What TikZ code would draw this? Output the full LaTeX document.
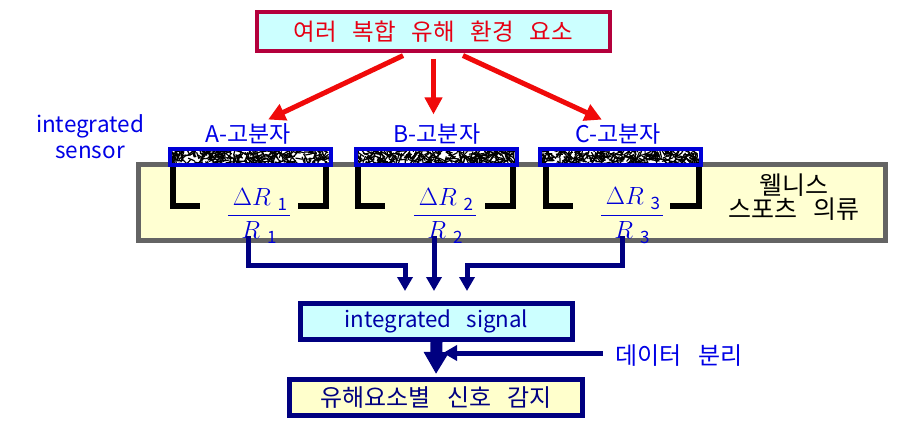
\documentclass[tikz,border=0pt]{standalone}
\usepackage{amsmath}
\usepackage{fontspec}
\setmainfont[WordSpace=3]{Noto Sans CJK KR}
\usetikzlibrary{arrows.meta,calc}

\definecolor{crimson}{RGB}{180,0,60}
\definecolor{redtext}{RGB}{230,0,20}
\definecolor{redline}{RGB}{240,10,10}
\definecolor{lightcyan}{RGB}{204,255,255}
\definecolor{lightyellow}{RGB}{255,255,204}
\definecolor{beige}{RGB}{255,255,210}
\definecolor{boxgray}{RGB}{100,100,100}
\definecolor{navy}{RGB}{0,0,128}
\definecolor{labelblue}{RGB}{0,0,230}
\definecolor{stripblue}{RGB}{0,0,215}

\newcommand{\subnum}[1]{\raisebox{-5pt}{\fontsize{17}{17}\selectfont\normalfont #1}}
\newcommand{\ratio}[1]{$\genfrac{}{}{1.6pt}{0}{\hspace{5pt}\Delta R\;\subnum{#1}\hspace{3pt}}{R\;\subnum{#1}}$}

\tikzset{
  every node/.style={inner sep=0pt},
  topbox/.style={draw=crimson, line width=4pt, fill=lightcyan, minimum width=353pt,
    minimum height=39pt, text=redtext, font=\fontsize{23.5}{27}\selectfont},
  polymer/.style={text=labelblue, font=\fontsize{23}{26}\selectfont},
  sensortext/.style={text=labelblue, align=center, font=\fontsize{22.5}{26}\selectfont},
  strip/.style={draw=stripblue, line width=4pt, fill=white, minimum width=161pt,
    minimum height=16pt, path picture={
      \path (path picture bounding box.south west) coordinate (sw)
            (path picture bounding box.north east) coordinate (ne);
      \foreach \k in {1,...,360}{
        \pgfmathsetmacro\u{rnd}\pgfmathsetmacro\v{rnd}\pgfmathsetmacro\a{rnd*360}
        \draw[black, line width=1.2pt] let \p1=(sw), \p2=(ne) in
          (\x1+\u*\x2-\u*\x1, \y1+\v*\y2-\v*\y1) -- ++(\a:7pt);
      }}},
  ratiotext/.style={text=stripblue, font=\fontsize{23}{27}\selectfont},
  sigbox/.style={draw=navy, line width=5pt, fill=lightcyan, minimum width=272pt,
    minimum height=36pt, text=navy!70!blue, font=\fontsize{22.3}{25}\selectfont},
  outbox/.style={draw=navy, line width=5pt, fill=lightyellow, minimum width=293pt,
    minimum height=36pt, text=navy, font=\fontsize{24}{27}\selectfont},
  bracket/.style={line width=6pt, black},
  redarrow/.style={redline, line width=5pt, -{Triangle[width=17pt,length=17pt]}},
  navyarrow/.style={navy, line width=5pt, -{Triangle[width=15pt,length=14pt]}},
  bigarrow/.style={navy, line width=12pt, -{Triangle[width=24pt,length=22pt]}}
}

\begin{document}
\begin{tikzpicture}[x=1pt,y=-1pt]
  \useasboundingbox (0,0) rectangle (921,425);
  \fill[white] (0,0) rectangle (921,425);

  \draw[boxgray, line width=5pt, fill=beige] (138.5,164.5) rectangle (885.5,240.5);

  \node[topbox] (top) at (433.5,31.5) {여러 복합 유해 환경 요소};
  \node[sensortext] (sensor) at (90,137) {integrated\\sensor};
  \node[polymer] (A) at (248,134) {A-고분자};
  \node[polymer] (B) at (437,134) {B-고분자};
  \node[polymer] (C) at (618,134) {C-고분자};

  \pgfmathsetseed{11}
  \node[strip] (sA) at (250.5,157) {};
  \node[strip] (sB) at (436.5,157) {};
  \node[strip] (sC) at (620.5,157) {};

  \begin{scope}[bracket]
    \draw (173,167) -- (173,206) -- (200,206);
    \draw (298,206) -- (326,206) -- (326,167);
    \draw (358,167) -- (358,206) -- (385,206);
    \draw (485,206) -- (513,206) -- (513,167);
    \draw (546,167) -- (546,206) -- (573,206);
    \draw (670,206) -- (699,206) -- (699,167);
  \end{scope}

  \node[ratiotext] (fA) at (259,216) {\ratio{1}};
  \node[ratiotext] (fB) at (445,216) {\ratio{2}};
  \node[ratiotext] (fC) at (632,216) {\ratio{3}};
  \node[align=center, font=\fontsize{25}{24}\selectfont] (wear) at (794,197) {웰니스\\스포츠 의류};

  \node[sigbox] (sig) at (436.5,321.5) {integrated signal};
  \node[outbox] (out) at (436,397.5) {유해요소별 신호 감지};
  \node[text=labelblue, font=\fontsize{24}{27}\selectfont] (sep) at (679,356) {데이터 분리};

  \coordinate (busL) at (405,265);
  \coordinate (busR) at (467,265);
  \coordinate (shaft) at (443,353);

  \begin{scope}[redarrow, shorten <=6pt, shorten >=9pt]
    \draw ([xshift=-25pt]top.south) to ([xshift=12pt]A.north);
    \draw (top.south) to (top.south |- B.north);
    \draw ([xshift=24pt]top.south) to ([xshift=-8pt]C.north);
  \end{scope}
  \begin{scope}[navyarrow]
    \draw[shorten >=10pt] ([xshift=-11pt,yshift=8pt]fA.south) |- (busL) -- (busL |- sig.north);
    \draw[shorten >=10pt] ([xshift=-11pt,yshift=8pt]fB.south) -- ([xshift=-11pt]fB.south |- sig.north);
    \draw[shorten >=10pt] ([xshift=-10pt,yshift=8pt]fC.south) |- (busR) -- (busR |- sig.north);
    \draw ([xshift=-13pt]sep.west |- shaft) -- (shaft);
  \end{scope}
  \draw[bigarrow, shorten >=3pt] (sig.south) -- (out.north);
\end{tikzpicture}
\end{document}
